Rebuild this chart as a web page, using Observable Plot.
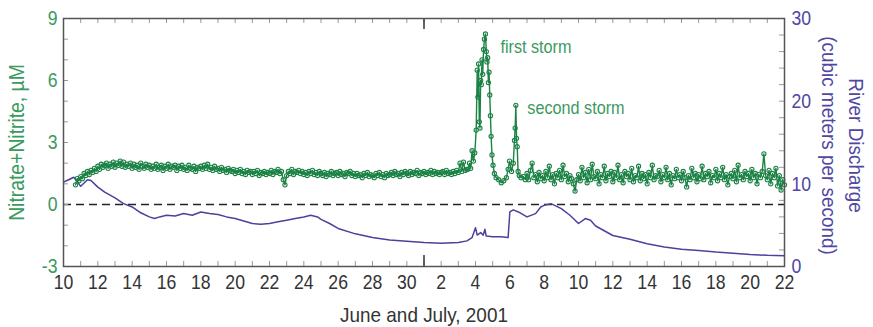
<!DOCTYPE html>
<html><head><meta charset="utf-8">
<script src="https://cdn.jsdelivr.net/npm/d3@7"></script>
<script src="https://cdn.jsdelivr.net/npm/@observablehq/plot@0.6"></script>
<style>body{margin:0;background:#fff;}</style>
</head><body><div id="chart"></div>
<script>
// time is given in days after 2001-06-10 00:00 UTC
const START = Date.UTC(2001, 5, 10);
const toDate = t => new Date(START + t * 864e5);

// Nitrate+Nitrite (µM), June segment: sampled every 0.1 day from day 0.7 to 23.5
const juneStart = 0.7, juneStep = 0.1;
const juneNitrate = [0.95,1.25,1.15,
1.35,1.25,1.5,1.4,1.6,1.45,1.65,1.55,1.75,1.6,
1.85,1.7,1.95,1.8,1.9,2.0,1.75,1.95,1.85,2.05,
1.8,2.0,1.9,2.1,1.85,2.05,1.8,1.95,1.85,2.0,
1.75,1.95,1.8,1.9,1.7,2.0,1.85,1.75,1.95,1.8,
1.9,1.7,1.85,1.75,1.95,1.7,1.8,1.9,1.65,1.85,
1.75,1.95,1.7,1.85,1.8,1.9,1.65,1.85,1.75,1.9,
1.7,1.8,1.65,1.9,1.75,1.7,1.85,1.6,1.8,1.75,
1.85,1.7,1.9,1.75,1.95,1.7,1.8,1.65,1.85,1.7,
1.75,1.6,1.8,1.65,1.7,1.55,1.75,1.65,1.6,1.7,
1.5,1.65,1.55,1.7,1.5,1.6,1.45,1.65,1.55,1.6,
1.45,1.6,1.5,1.65,1.4,1.55,1.5,1.6,1.45,1.55,
1.5,1.65,1.45,1.6,1.55,1.7,1.5,1.6,1.2,0.95,
1.4,1.6,1.5,1.7,1.45,1.6,1.55,1.65,1.5,1.6,
1.45,1.55,1.4,1.6,1.5,1.65,1.45,1.55,1.4,1.6,
1.5,1.4,1.55,1.35,1.5,1.45,1.6,1.4,1.5,1.55,
1.4,1.6,1.45,1.5,1.35,1.55,1.5,1.6,1.4,1.5,
1.35,1.5,1.4,1.45,1.3,1.5,1.4,1.55,1.35,1.45,
1.4,1.3,1.5,1.4,1.55,1.35,1.45,1.3,1.5,1.4,
1.45,1.55,1.4,1.6,1.45,1.5,1.35,1.55,1.45,1.6,
1.5,1.4,1.6,1.45,1.55,1.5,1.65,1.4,1.55,1.5,
1.6,1.45,1.55,1.5,1.65,1.45,1.6,1.5,1.55,1.45,
1.55,1.6,1.45,1.65,1.5,1.55,1.45,1.6,1.5,1.65,
1.55,2.0,1.6,2.05,1.65,1.7];

// storm segment, irregular times
const stormTime = [23.55,23.65,23.72,23.80,23.88,23.96,24.04,24.10,24.14,24.18,
24.22,24.26,24.30,24.34,24.38,24.42,24.47,24.52,24.58,24.63,
24.67,24.71,24.75,24.79,24.83,24.87,24.91,24.96,25.02,25.10,
25.2,25.35,25.5,25.65,25.8,25.9,25.98,26.1,26.2,26.27,
26.31,26.35,26.39,26.43,26.48,26.55,26.65];
const stormNitrate = [1.7,2.0,1.75,2.6,2.1,2.5,3.6,6.5,5.2,6.8,
4.0,3.7,6.0,5.8,7.0,6.3,7.5,8.0,8.25,7.4,
6.9,7.1,5.9,6.4,5.3,4.3,3.3,2.4,1.9,1.5,
1.3,1.2,1.05,1.15,1.3,1.7,2.1,1.6,2.0,3.1,
3.7,4.8,3.2,2.8,1.6,1.4,1.3];

// July segment: sampled every 0.1 day from day 26.8 to 42.0
const julyStart = 26.8, julyStep = 0.1;
const julyNitrate = [1.35,1.2,
1.5,1.2,1.65,2.0,1.3,1.45,1.1,1.55,1.25,1.4,
1.15,1.6,1.3,1.85,1.2,1.45,1.0,1.5,1.3,1.65,
1.2,1.9,1.35,1.5,1.1,1.4,1.25,1.0,0.65,1.2,
1.45,1.15,1.8,1.3,1.55,1.05,1.7,1.2,1.95,1.35,
1.25,1.6,1.0,1.45,1.3,1.85,1.15,1.5,1.35,1.6,
1.1,1.55,1.3,1.9,1.2,1.45,1.05,1.6,1.35,1.5,
1.2,1.75,1.1,1.4,1.3,1.85,1.15,1.5,1.25,1.45,
1.0,1.55,1.3,1.9,1.2,1.4,1.35,1.65,1.1,1.45,
1.3,1.8,1.2,1.5,0.95,1.4,1.25,1.7,1.3,1.45,
1.15,1.6,1.3,0.85,1.4,1.2,1.75,1.3,1.5,1.1,
1.45,1.25,1.85,1.2,1.5,1.35,1.6,1.05,1.4,1.3,
1.7,1.15,1.5,1.3,1.8,1.2,1.45,0.95,1.35,1.5,
1.25,1.65,1.1,1.9,1.3,1.45,1.2,1.6,1.35,1.5,
1.15,1.7,1.3,1.5,1.0,1.45,1.3,1.6,2.45,1.4,
1.2,1.65,1.0,1.5,1.3,1.75,0.9,1.4,0.7,1.2,
0.95];

// River discharge (m³/s)
const dischargeTime = [0,0.3,0.6,0.8,1.0,1.2,1.4,1.6,2.0,2.4,
3.0,3.5,4.0,4.5,5.0,5.3,5.6,6.0,6.5,7.0,
7.5,8.0,8.5,9.0,9.5,10.0,10.5,11.0,11.5,12.0,
12.5,13.0,13.5,14.0,14.4,14.8,15.0,15.5,16.0,17.0,
18.0,19.0,20.0,21.0,22.0,23.0,23.5,23.8,24.0,24.1,
24.3,24.45,24.55,24.62,25.0,25.5,25.9,26.0,26.2,26.5,
27.0,27.5,27.8,28.0,28.4,29.0,29.5,30.0,30.4,30.7,
31.0,32.0,33.0,34.0,35.0,36.0,37.0,38.0,39.0,40.0,
41.0,42.0];
const dischargeValue = [10.2,10.5,10.8,10.3,9.7,10.1,10.5,10.4,9.6,9.0,
8.3,7.6,7.2,6.5,6.0,5.8,6.0,6.2,6.1,6.4,
6.2,6.6,6.4,6.3,6.0,5.8,5.5,5.2,5.1,5.2,
5.4,5.6,5.8,6.0,6.2,6.0,5.7,5.2,4.6,3.95,
3.5,3.2,3.05,2.9,2.8,2.9,3.1,3.5,4.7,3.8,
4.1,3.8,4.5,3.7,3.6,3.6,3.5,6.6,6.85,6.6,
6.0,6.4,7.2,7.4,7.6,7.0,6.2,5.2,5.8,5.6,
4.9,3.75,3.3,2.75,2.35,2.1,1.95,1.75,1.6,1.45,
1.35,1.3];

const leftTicks = [-3, 0, 3, 6, 9];
const rightTicks = [0, 10, 20, 30];
const annotations = [
  {t: 25.45, v: 7.6, label: "first storm"},
  {t: 27.02, v: 4.65, label: "second storm"}
];
const xTitle = "June and July, 2001";
const leftTitle = "Nitrate+Nitrite, µM";
const rightTitle = "River Discharge\n(cubic meters per second)";

// build tables
const juneRows = juneNitrate.map((v, i) => ({t: toDate(juneStart + juneStep * i), v}));
const stormRows = stormNitrate.map((v, i) => ({t: toDate(stormTime[i]), v}));
const julyRows = julyNitrate.map((v, i) => ({t: toDate(julyStart + julyStep * i), v}));
const nitrate = [...juneRows, ...stormRows, ...julyRows];
const discharge = dischargeValue.map((q, i) => ({t: toDate(dischargeTime[i]), q}));
// right axis: 0..30 maps onto -3..9
const qToY = q => -3 + q * 12 / 30;
const yToQ = y => (y + 3) * 30 / 12;

const dayTicks = d3.utcDay.range(toDate(0), toDate(42.5));
const labelDays = dayTicks.filter(d => d.getUTCDate() % 2 === 0);
const monthTick = [toDate(21)];

const GREEN = "#1c8245", GREEN_TXT = "#3b9a5e", PURPLE = "#4c419c", PURPLE_TXT = "#4f47a2";
const FONT = '"Liberation Sans", Arial, sans-serif';
const SQUEEZE_TICK = 0.84, SQUEEZE_TEXT = 0.9;
const W = 873, H = 327, ML = 63, MR = 89, MT = 18, MB = 61;
const FW = W - ML - MR, FH = H - MT - MB;

const chart = Plot.plot({
  width: W, height: H,
  marginTop: MT, marginRight: MR, marginBottom: MB, marginLeft: ML,
  style: {fontFamily: FONT, background: "white"},
  x: {type: "utc", domain: [toDate(0), toDate(42)]},
  y: {domain: [-3, 9]},
  marks: [
    Plot.ruleY([0], {stroke: "#222", strokeDasharray: "8,5", strokeWidth: 1.3}),
    Plot.ruleX(dayTicks, {x: d => d, insetTop: FH - 5, stroke: "#999"}),
    Plot.ruleX(dayTicks, {x: d => d, insetBottom: FH - 5, stroke: "#999"}),
    Plot.ruleX(monthTick, {x: d => d, insetTop: FH - 11, stroke: "#333", strokeWidth: 1.5}),
    Plot.ruleX(monthTick, {x: d => d, insetBottom: FH - 11, stroke: "#333", strokeWidth: 1.5}),
    Plot.ruleY(d3.range(-2, 9), {y: d => d, insetRight: FW - 5, stroke: "#999"}),
    Plot.ruleY(d3.range(2, 30, 2).map(qToY), {y: d => d, insetLeft: FW - 5, stroke: "#999"}),
    Plot.line(discharge, {x: "t", y: d => qToY(d.q), stroke: PURPLE, strokeWidth: 1.5}),
    Plot.line(nitrate, {x: "t", y: "v", stroke: GREEN, strokeWidth: 1.4}),
    Plot.dot(nitrate, {x: "t", y: "v", r: 2.1, stroke: GREEN, strokeWidth: 1.1, fill: "none"}),
    Plot.frame({stroke: "#555", strokeWidth: 1.5}),
    Plot.axisX(labelDays, {tickSize: 0, tickPadding: 8, tickFormat: d => d.getUTCDate(), fontSize: 21, fill: "#333", label: null}),
    Plot.axisY(leftTicks, {anchor: "left", tickSize: 0, tickPadding: 6, tickFormat: d => String(d), fontSize: 21, fill: GREEN_TXT, label: null}),
    Plot.axisY(rightTicks.map(qToY), {anchor: "right", tickSize: 0, tickPadding: 7, tickFormat: d => String(Math.round(yToQ(d))), fontSize: 21, fill: PURPLE_TXT, label: null}),
    Plot.text(annotations, {x: d => toDate(d.t), y: "v", text: "label", textAnchor: "start", fill: GREEN_TXT, fontSize: 18}),
    Plot.text([xTitle], {frameAnchor: "bottom", textAnchor: "middle", lineAnchor: "middle", dy: 49, fontSize: 21, fill: "#333"}),
    Plot.text([leftTitle], {frameAnchor: "left", textAnchor: "middle", lineAnchor: "middle", rotate: -90, dx: -46, fontSize: 21.5, fill: GREEN_TXT}),
    Plot.text([rightTitle], {frameAnchor: "right", textAnchor: "middle", lineAnchor: "middle", rotate: 90, dx: 60, dy: 3, fontSize: 21, lineHeight: 1.3, fill: PURPLE_TXT})
  ]
});
document.getElementById("chart").append(chart);

// condense the glyphs to imitate the narrow typeface of the original
chart.querySelectorAll("text").forEach(t => {
  const isTick = /^-?\d+$/.test(t.textContent.trim());
  const k = isTick ? SQUEEZE_TICK : SQUEEZE_TEXT;
  const tr = t.getAttribute("transform") || "";
  if (tr.includes("rotate")) {
    t.setAttribute("transform", tr + ` scale(${k},1)`);
    return;
  }
  const spans = t.querySelectorAll("tspan");
  const targets = spans.length ? Array.from(spans) : [t];
  targets.forEach(el => {
    const len = el.getComputedTextLength();
    if (len > 0) {
      el.setAttribute("textLength", (len * k).toFixed(2));
      el.setAttribute("lengthAdjust", "spacingAndGlyphs");
    }
  });
});
</script>
</body></html>
